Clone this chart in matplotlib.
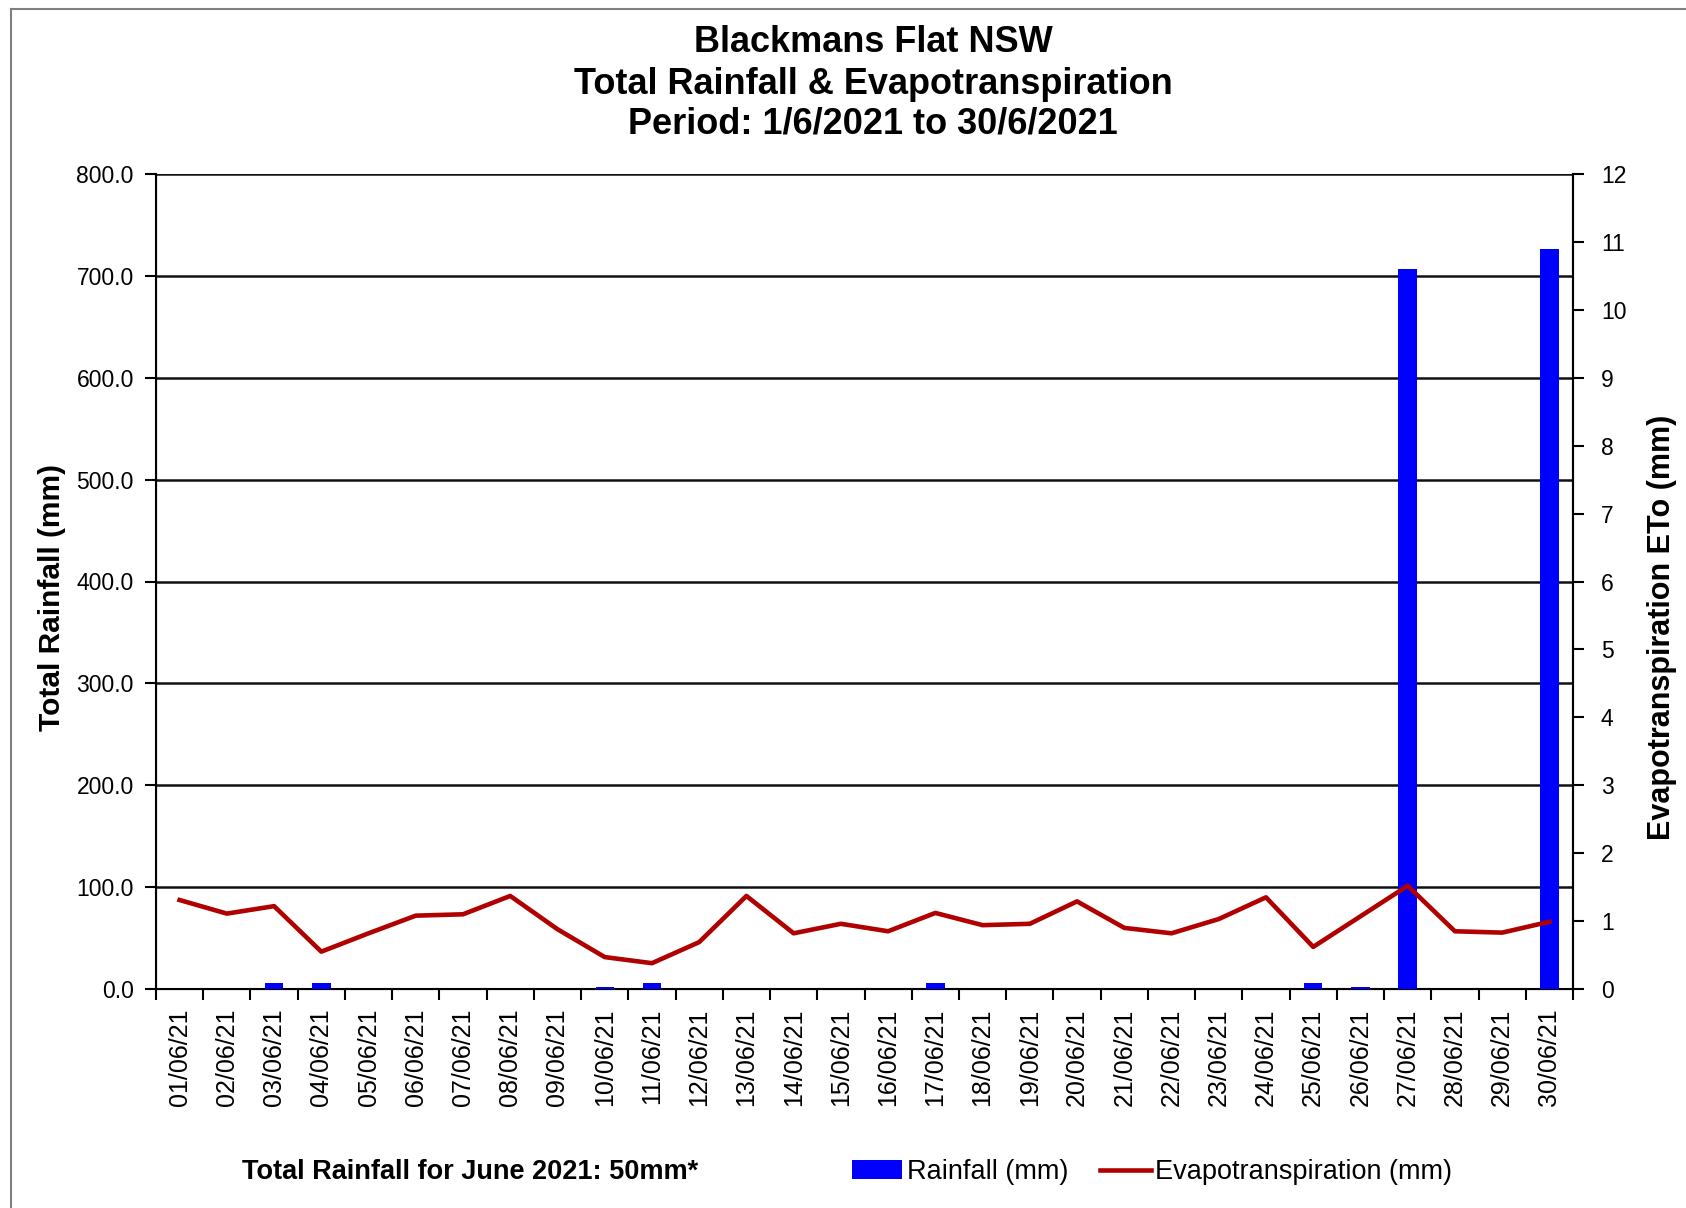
import matplotlib
matplotlib.use("Agg")
import matplotlib.pyplot as plt
from matplotlib.lines import Line2D
import numpy as np

dates = ["01/06/21", "02/06/21", "03/06/21", "04/06/21", "05/06/21", "06/06/21",
         "07/06/21", "08/06/21", "09/06/21", "10/06/21", "11/06/21", "12/06/21",
         "13/06/21", "14/06/21", "15/06/21", "16/06/21", "17/06/21", "18/06/21",
         "19/06/21", "20/06/21", "21/06/21", "22/06/21", "23/06/21", "24/06/21",
         "25/06/21", "26/06/21", "27/06/21", "28/06/21", "29/06/21", "30/06/21"]
rainfall = [0, 0, 6, 6, 0, 0, 0, 0, 0, 2, 6, 0, 0, 0, 0, 0, 6, 0,
            0, 0, 0, 0, 0, 0, 6, 2, 707, 0, 0, 726]
evapo = [1.31, 1.11, 1.22, 0.55, 0.82, 1.08, 1.10, 1.37, 0.88, 0.47, 0.38, 0.69,
         1.37, 0.82, 0.96, 0.85, 1.12, 0.94, 0.96, 1.29, 0.90, 0.82, 1.03, 1.35,
         0.62, 1.07, 1.52, 0.85, 0.83, 0.99]
left_ticks = [0, 100, 200, 300, 400, 500, 600, 700, 800]
right_ticks = list(range(0, 13))

plt.rcParams['font.family'] = ['Liberation Sans', 'DejaVu Sans']

W, H = 1686, 1208
fig = plt.figure(figsize=(W / 100, H / 100), dpi=100)

# outer frame lines (image border)
fig.add_artist(Line2D([11 / W, 1.0], [1 - 9 / H, 1 - 9 / H], color='#808080', lw=1.5))
fig.add_artist(Line2D([11 / W, 11 / W], [0, 1 - 9 / H], color='#808080', lw=1.5))

ax = fig.add_axes([156 / W, 1 - 989 / H, (1573 - 156) / W, (989 - 174) / H])
x = np.arange(len(dates))
bars = ax.bar(x, rainfall, width=0.39, color='#0000FF', zorder=3, label='Rainfall (mm)')
ax.set_xlim(-0.5, len(dates) - 0.5)
ax.set_ylim(0, 800)
ax.set_yticks(left_ticks)
ax.set_yticklabels([f"{v:.1f}" for v in left_ticks], fontsize=16.5)
ax.yaxis.grid(True, color='#111111', lw=1.8, zorder=1)
ax.set_axisbelow(True)
ax.set_xticks(x)
ax.set_xticklabels(dates, rotation=90, fontsize=18)
ax.set_xticks(np.arange(-0.5, len(dates), 1), minor=True)
ax.tick_params(axis='x', which='major', length=0, pad=14)
ax.tick_params(axis='x', which='minor', length=8, width=1.5, direction='out')
ax.tick_params(axis='y', length=8, width=1.5, pad=8)
for s in ['left', 'bottom', 'right']:
    ax.spines[s].set_linewidth(1.5)
ax.spines['top'].set_visible(False)
ax.set_ylabel('Total Rainfall (mm)', fontsize=21.5, fontweight='bold')
ax.yaxis.set_label_coords((66 - 156) / (1573 - 156), 0.48)

ax2 = ax.twinx()
line, = ax2.plot(x, evapo, color='#B00000', lw=3.3, zorder=4, label='Evapotranspiration (mm)')
ax2.set_ylim(0, 12)
ax2.set_yticks(right_ticks)
ax2.set_yticklabels([str(v) for v in right_ticks], fontsize=16.5)
ax2.tick_params(axis='y', length=8, width=1.5, pad=12)
ax2.spines['top'].set_visible(False)
ax2.spines['right'].set_linewidth(1.5)
ax2.set_ylabel('Evapotranspiration ETo (mm)', fontsize=22, fontweight='bold')
ax2.yaxis.set_label_coords((1647 - 156) / (1573 - 156), 0.444)

title_kw = dict(ha='center', va='center', fontsize=26, fontweight='bold')
fig.text(873 / W, 1 - 43 / H, 'Blackmans Flat NSW', **title_kw)
fig.text(873 / W, 1 - 84 / H, 'Total Rainfall & Evapotranspiration', **title_kw)
fig.text(873 / W, 1 - 124 / H, 'Period: 1/6/2021 to 30/6/2021', **title_kw)

fig.text(242 / W, 1 - 1172 / H, 'Total Rainfall for June 2021: 50mm*', ha='left', va='center',
         fontsize=19.5, fontweight='bold')

fig.legend([bars, line], ['Rainfall (mm)', 'Evapotranspiration (mm)'],
           loc='center left', bbox_to_anchor=(828 / W, 1 - 1172 / H), ncol=2,
           frameon=False, handlelength=1.85, handletextpad=0.15, columnspacing=1.2,
           prop={'size': 19.5})

fig.savefig('out.png', dpi=100)
